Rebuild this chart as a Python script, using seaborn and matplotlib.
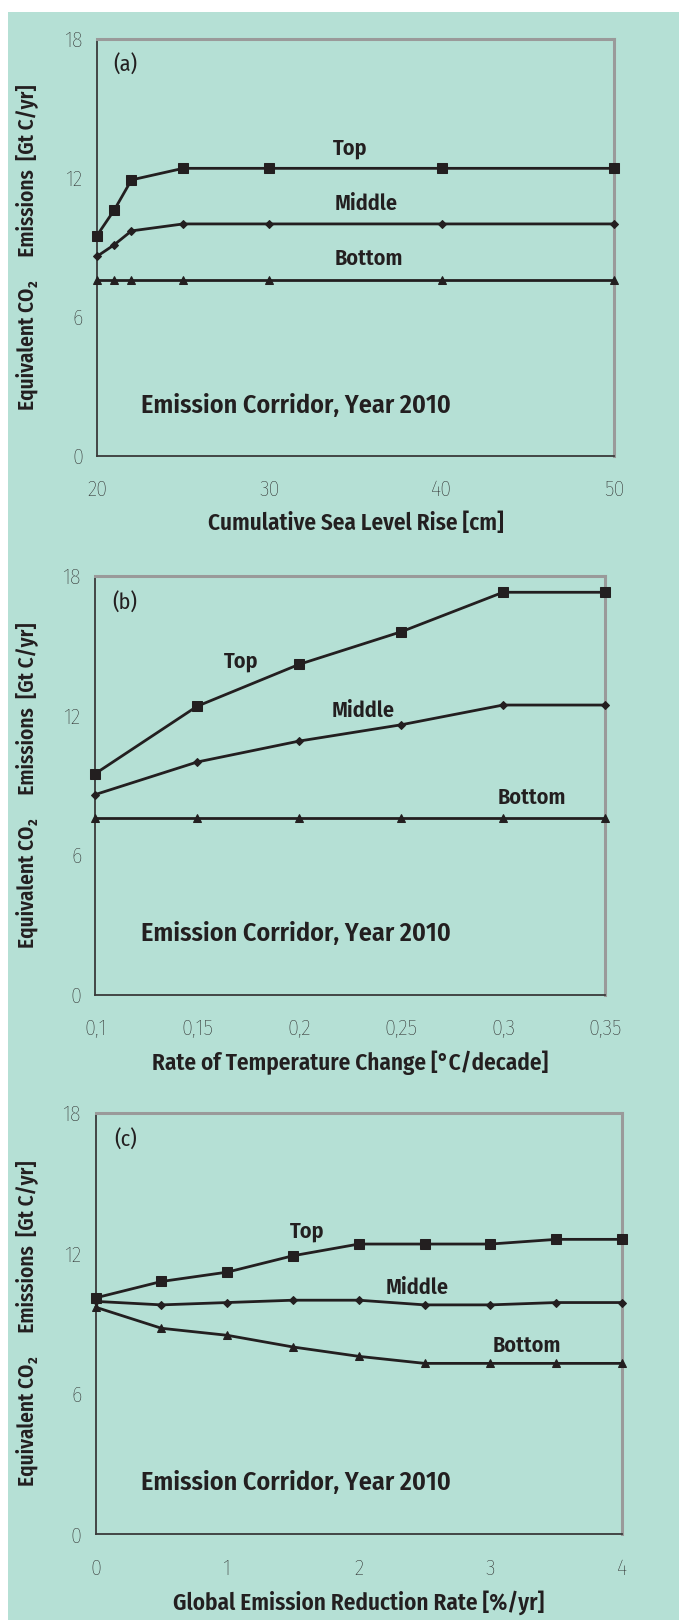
import matplotlib
matplotlib.use("Agg")
import matplotlib.pyplot as plt
import seaborn as sns
from matplotlib.patches import Rectangle

sns.set_theme(style="white")
FONTS = ['Fira Sans Condensed', 'Roboto Condensed', 'PT Sans Narrow', 'DejaVu Sans']
plt.rcParams['font.family'] = FONTS

# ---------------- data ----------------
# (a) Cumulative sea level rise
a_x = [20, 21, 22, 25, 30, 40, 50]
a_top = [9.5, 10.6, 11.9, 12.4, 12.4, 12.4, 12.4]
a_mid = [8.6, 9.1, 9.7, 10.0, 10.0, 10.0, 10.0]
a_bot = [7.6, 7.6, 7.6, 7.6, 7.6, 7.6, 7.6]
a_xticks = [20, 30, 40, 50]
a_xticklabels = ["20", "30", "40", "50"]

# (b) Rate of temperature change
b_x = [0.10, 0.15, 0.20, 0.25, 0.30, 0.35]
b_top = [9.5, 12.4, 14.2, 15.6, 17.3, 17.3]
b_mid = [8.6, 10.0, 10.9, 11.6, 12.45, 12.45]
b_bot = [7.6, 7.6, 7.6, 7.6, 7.6, 7.6]
b_xticks = [0.10, 0.15, 0.20, 0.25, 0.30, 0.35]
b_xticklabels = ["0,1", "0,15", "0,2", "0,25", "0,3", "0,35"]

# (c) Global emission reduction rate
c_x = [0, 0.5, 1, 1.5, 2, 2.5, 3, 3.5, 4]
c_top = [10.1, 10.8, 11.2, 11.9, 12.4, 12.4, 12.4, 12.6, 12.6]
c_mid = [9.95, 9.8, 9.9, 10.0, 10.0, 9.8, 9.8, 9.9, 9.9]
c_bot = [9.7, 8.8, 8.5, 8.0, 7.6, 7.3, 7.3, 7.3, 7.3]
c_xticks = [0, 1, 2, 3, 4]
c_xticklabels = ["0", "1", "2", "3", "4"]

y_ticks = [0, 6, 12, 18]
series_names = ["Top", "Middle", "Bottom"]
panel_tags = ["(a)", "(b)", "(c)"]
x_titles = ["Cumulative Sea Level Rise [cm]",
            "Rate of Temperature Change [°C/decade]",
            "Global Emission Reduction Rate [%/yr]"]
y_title = "Equivalent CO\u2082     Emissions  [Gt C/yr]"
corridor_text = "Emission Corridor, Year 2010"

# ---------------- layout ----------------
W, H = 679, 1620
BG = "#b5e0d5"
INK = "#231f20"
fig = plt.figure(figsize=(W / 100, H / 100), dpi=100)
fig.patch.set_facecolor("white")
fig.patches.append(Rectangle((8 / W, 0), 1, 1 - 12 / H, transform=fig.transFigure,
                             facecolor=BG, edgecolor="none", linewidth=0, zorder=-10))

# axes boxes in pixels: left, right, top, bottom
boxes = [(97, 614, 38.6, 455.6), (95.3, 605, 576, 994.5), (95.7, 622, 1113, 1534.2)]

panels = [
    (a_x, a_top, a_mid, a_bot, a_xticks, a_xticklabels, (20, 50),
     [(34.7, 13.28), (35.6, 10.86), (35.8, 8.49)], (21.66, 16.84), (31.55, 2.16)),
    (b_x, b_top, b_mid, b_bot, b_xticks, b_xticklabels, (0.1, 0.35),
     [(0.1716, 14.34), (0.2313, 12.19), (0.3139, 8.44)], (0.1144, 16.81), (0.1985, 2.62)),
    (c_x, c_top, c_mid, c_bot, c_xticks, c_xticklabels, (0, 4),
     [(1.61, 12.94), (2.44, 10.52), (3.28, 8.05)], (0.227, 16.82), (1.52, 2.19)),
]

markers = ["s", "D", "^"]
msizes = [6.5, 4.0, 5.5]

for i, (px, top, mid, bot, xt, xtl, xlim, lblpos, tagpos, corrpos) in enumerate(panels):
    l, r, t, b = boxes[i]
    ax = fig.add_axes([l / W, 1 - b / H, (r - l) / W, (b - t) / H])
    ax.set_facecolor("none")
    for ys, mk, ms in zip([top, mid, bot], markers, msizes):
        sns.lineplot(x=px, y=ys, ax=ax, color=INK, linewidth=2.0, marker=mk,
                     markersize=ms, markeredgecolor=INK, markerfacecolor=INK,
                     clip_on=False, zorder=5)
    ax.set_xlim(*xlim)
    ax.set_ylim(0, 18)
    ax.set_xticks(xt)
    ax.set_xticklabels(xtl, fontweight="light")
    ax.set_yticks(y_ticks)
    ax.set_yticklabels([str(v) for v in y_ticks], fontweight="light")
    for s in ["left", "bottom"]:
        ax.spines[s].set_color("#3a3a3a")
        ax.spines[s].set_linewidth(1.3)
    for s in ["top", "right"]:
        ax.spines[s].set_color("#9a9a9a")
        ax.spines[s].set_linewidth(2.2)
    ax.tick_params(axis="both", direction="inout", length=10, width=1.0,
                   color="#3a3a3a", labelcolor=INK, labelsize=16)
    ax.tick_params(axis="y", pad=5)
    ax.tick_params(axis="x", pad=12)
    ax.set_xlabel(x_titles[i], fontsize=16.7, fontweight="semibold", color=INK, labelpad=8)
    ax.set_ylabel(y_title, fontsize=15.3, fontweight="semibold", color=INK)
    ax.yaxis.set_label_coords((38 - l) / (r - l), 0.5)
    for name, (tx, ty) in zip(series_names, lblpos):
        ax.text(tx, ty, name, ha="center", va="center", fontsize=16,
                fontweight="semibold", color=INK)
    ax.text(tagpos[0], tagpos[1], panel_tags[i], ha="center", va="center",
            fontsize=16, fontweight="normal", color=INK)
    ax.text(corrpos[0], corrpos[1], corridor_text, ha="center", va="center",
            fontsize=18.8, fontweight="semibold", color=INK)
    ax.grid(False)

fig.savefig("out.png", dpi=100, facecolor=fig.get_facecolor())
